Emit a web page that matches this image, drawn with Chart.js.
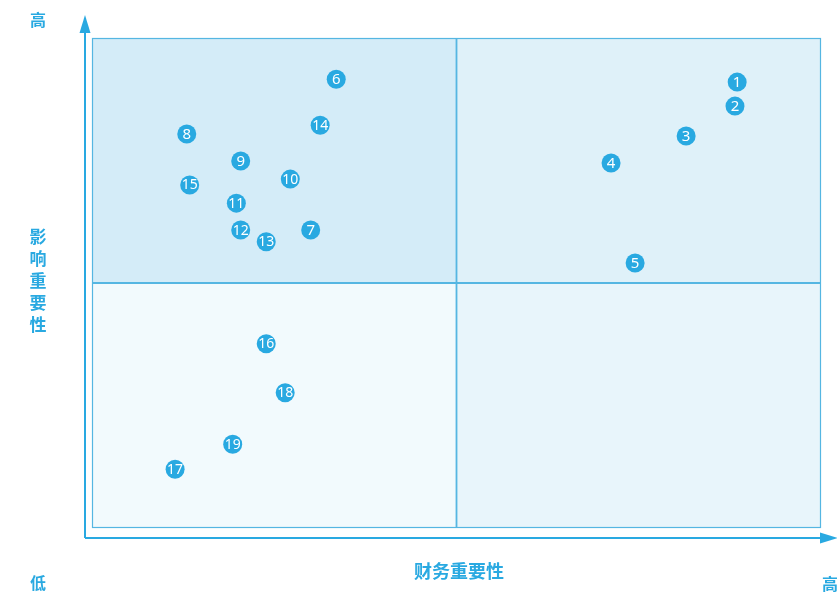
<!DOCTYPE html>
<html>
<head>
<meta charset="utf-8">
<script src="https://cdn.jsdelivr.net/npm/chart.js@4.4.0/dist/chart.umd.min.js"></script>
<style>
  html, body { margin: 0; padding: 0; background: #fff; }
  #wrap { width: 837px; height: 594px; position: relative; }
</style>
</head>
<body>
<div id="wrap"><canvas id="matrix"></canvas></div>
<script>
// issue numbers, financial materiality (x), impact materiality (y)
const issueIds = [1, 2, 3, 4, 5, 6, 7, 8, 9, 10, 11, 12, 13, 14, 15, 16, 17, 18, 19];
const financial = [8.85, 8.82, 8.15, 7.12, 7.45, 3.35, 3.0, 1.30, 2.04, 2.72, 1.98, 2.04, 2.39, 3.13, 1.34, 2.39, 1.14, 2.65, 1.93];
const impact = [9.10, 8.61, 8.00, 7.45, 5.41, 9.16, 6.08, 8.04, 7.49, 7.12, 6.63, 6.08, 5.84, 8.22, 7.00, 3.76, 1.20, 2.76, 1.71];

const xTitle = "财务重要性";
const yTitle = "影响重要性";
const lowLabel = "低";
const highLabel = "高";

const blue = "#29a9e1";
const lineBlue = "#55b6e2";
const font = "'Noto Sans CJK SC', 'Noto Sans', sans-serif";

const quadrantPlugin = {
    id: "quadrants",
    beforeDatasetsDraw(chart) {
        const ctx = chart.ctx;
        const a = chart.chartArea;
        const xs = chart.scales.x, ys = chart.scales.y;
        const cx = xs.getPixelForValue(5);
        const cy = ys.getPixelForValue(5);
        ctx.save();
        ctx.fillStyle = "#d4ecf8";
        ctx.fillRect(a.left, a.top, cx - a.left, cy - a.top);
        ctx.fillStyle = "#dff1f9";
        ctx.fillRect(cx, a.top, a.right - cx, cy - a.top);
        ctx.fillStyle = "#f2fafd";
        ctx.fillRect(a.left, cy, cx - a.left, a.bottom - cy);
        ctx.fillStyle = "#e8f5fb";
        ctx.fillRect(cx, cy, a.right - cx, a.bottom - cy);

        ctx.strokeStyle = lineBlue;
        ctx.lineWidth = 1.2;
        ctx.strokeRect(a.left + 0.5, a.top + 0.5, a.right - a.left - 1, a.bottom - a.top - 1);
        ctx.lineWidth = 1.8;
        ctx.beginPath();
        ctx.moveTo(cx, a.top);
        ctx.lineTo(cx, a.bottom);
        ctx.moveTo(a.left, cy);
        ctx.lineTo(a.right, cy);
        ctx.stroke();

        // axes with arrows
        const ax = a.left - 7, ay = a.bottom + 10;
        ctx.strokeStyle = blue;
        ctx.fillStyle = blue;
        ctx.lineWidth = 2;
        ctx.beginPath();
        ctx.moveTo(ax, ay);
        ctx.lineTo(ax, 30);
        ctx.moveTo(ax, ay);
        ctx.lineTo(823, ay);
        ctx.stroke();
        ctx.beginPath();
        ctx.moveTo(ax, 15);
        ctx.lineTo(ax - 5.5, 33);
        ctx.lineTo(ax + 5.5, 33);
        ctx.closePath();
        ctx.fill();
        ctx.beginPath();
        ctx.moveTo(838, ay);
        ctx.lineTo(820, ay - 5.5);
        ctx.lineTo(820, ay + 5.5);
        ctx.closePath();
        ctx.fill();

        // labels
        ctx.textAlign = "center";
        ctx.textBaseline = "middle";
        ctx.font = "bold 16px " + font;
        ctx.fillText(highLabel, 38, 20);
        ctx.fillText(lowLabel, 38, 583);
        ctx.fillText(highLabel, 830, 584);
        ctx.font = "bold 18px " + font;
        ctx.fillText(xTitle, 459, 571);
        ctx.font = "bold 17px " + font;
        [...yTitle].forEach((ch, i) => {
            ctx.fillText(ch, 38, 237 + i * 22);
        });
        ctx.restore();
    },
    afterDatasetsDraw(chart) {
        const ctx = chart.ctx;
        const meta = chart.getDatasetMeta(0);
        ctx.save();
        ctx.fillStyle = "#ffffff";
        ctx.textAlign = "center";
        ctx.textBaseline = "middle";
        meta.data.forEach((pt, i) => {
            const label = String(issueIds[i]);
            ctx.font = (label.length > 1 ? "14px " : "15px ") + "'Noto Sans', sans-serif";
            ctx.fillText(label, pt.x, pt.y + 0.5);
        });
        ctx.restore();
    }
};

const ctx = document.getElementById("matrix").getContext("2d");
new Chart(ctx, {
    type: "scatter",
    data: {
        datasets: [{
            data: financial.map((v, i) => ({ x: v, y: impact[i] })),
            backgroundColor: blue,
            borderColor: "#ffffff",
            borderWidth: 0,
            pointRadius: 9.5,
            pointHoverRadius: 9.5
        }]
    },
    options: {
        responsive: true,
        maintainAspectRatio: false,
        animation: false,
        layout: { padding: { left: 92, right: 16, top: 38, bottom: 66 } },
        plugins: { legend: { display: false }, tooltip: { enabled: false } },
        scales: {
            x: { type: "linear", min: 0, max: 10, display: false },
            y: { type: "linear", min: 0, max: 10, display: false }
        }
    },
    plugins: [quadrantPlugin]
});
</script>
</body>
</html>
